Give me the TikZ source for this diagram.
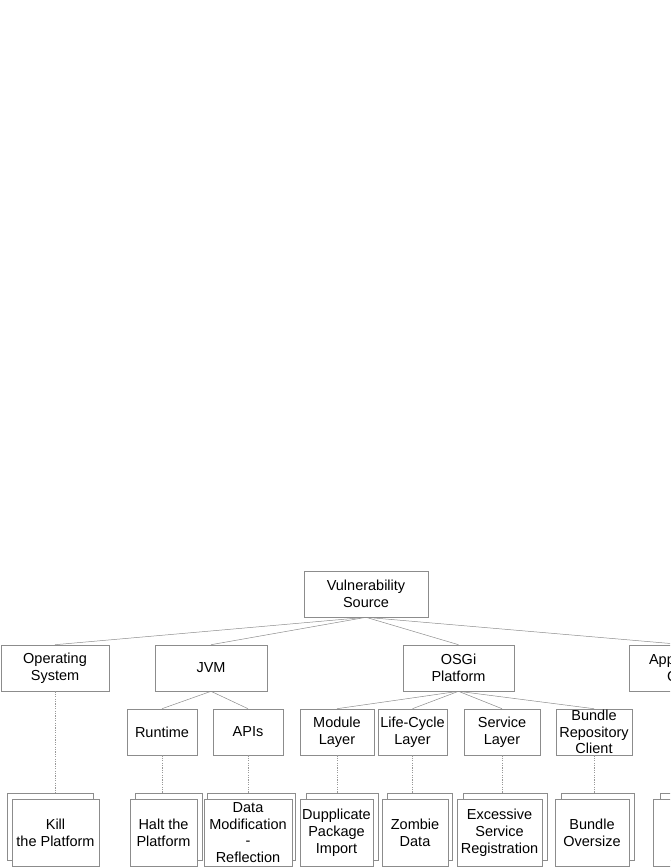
\documentclass[tikz,border=0pt]{standalone}
\usepackage{fontspec}
\setmainfont{Liberation Sans}
\begin{document}
\begin{tikzpicture}[x=1pt,y=1pt,
  box/.style={draw=black!45, fill=white, line width=0.6pt, inner sep=0pt, align=center,
    font=\fontsize{14.5}{16.8}\selectfont},
  lvl/.style={box, minimum height=46pt},
  leaf/.style={box, minimum height=67pt},
  edge/.style={draw=black!45, line width=0.5pt},
  dot/.style={draw=black!40, line width=0.5pt, dash pattern=on 1.2pt off 1.2pt}]
\useasboundingbox (0,0) rectangle (670,-867);
\clip (0,0) rectangle (670,-867);
% level 0/1
\node[lvl, minimum width=124pt] (vs) at (366,-594) {Vulnerability\\Source};
\node[lvl, minimum width=108pt] (os) at (55,-668) {Operating\\System};
\node[lvl, minimum width=112pt] (jvm) at (211,-668) {JVM};
\node[lvl, minimum width=111pt] (osgi) at (458.5,-668) {OSGi\\Platform};
\node[lvl, minimum width=111pt] (app) at (684.5,-668) {Application\\Code};
% level 2
\node[lvl, minimum width=70pt] (rt) at (162,-732) {Runtime};
\node[lvl, minimum width=70pt] (apis) at (248,-732) {APIs};
\node[lvl, minimum width=74pt] (mod) at (337,-732) {Module\\Layer};
\node[lvl, minimum width=69pt] (lc) at (412.5,-732) {Life-Cycle\\Layer};
\node[lvl, minimum width=76pt] (svc) at (502,-732) {Service\\Layer};
\node[lvl, minimum width=76pt] (brc) at (594,-732) {Bundle\\Repository\\Client};
% edges
\foreach \c in {os,jvm,osgi,app} \draw[edge] (vs.south) -- (\c.north);
\foreach \c in {rt,apis} \draw[edge] (jvm.south) -- (\c.north);
\foreach \c in {mod,lc,svc,brc} \draw[edge] (osgi.south) -- (\c.north);
% back leaves
\node[leaf, minimum width=86pt] (killb) at (50,-826.5) {};
\node[leaf, minimum width=67pt] (haltb) at (168.5,-826.5) {};
\node[leaf, minimum width=88pt] (datab) at (251,-826.5) {};
\node[leaf, minimum width=72pt] (dupb) at (342,-826.5) {};
\node[leaf, minimum width=65pt] (zomb) at (419.5,-826.5) {};
\node[leaf, minimum width=84pt] (excb) at (505,-826.5) {};
\node[leaf, minimum width=73pt] (bunb) at (597.5,-826.5) {};
\node[leaf, minimum width=80pt] (lastb) at (700,-826.5) {};
% dotted links
\draw[dot] (os.south) -- (os.south |- killb.north);
\draw[dot] (rt.south) -- (rt.south |- haltb.north);
\draw[dot] (apis.south) -- (apis.south |- datab.north);
\draw[dot] (mod.south) -- (mod.south |- dupb.north);
\draw[dot] (lc.south) -- (lc.south |- zomb.north);
\draw[dot] (svc.south) -- (svc.south |- excb.north);
\draw[dot] (brc.south) -- (brc.south |- bunb.north);
% front leaves
\node[leaf, minimum width=87pt] (kill) at (55.5,-832.5) {Kill\\the Platform};
\node[leaf, minimum width=67pt] (halt) at (163.5,-832.5) {Halt the\\Platform};
\node[leaf, minimum width=88pt] (data) at (248,-832.5) {Data\\Modification\\-\\Reflection};
\node[leaf, minimum width=73pt] (dup) at (336.5,-832.5) {Dupplicate\\Package\\Import};
\node[leaf, minimum width=66pt] (zom) at (415,-832.5) {Zombie\\Data};
\node[leaf, minimum width=85pt] (exc) at (499.5,-832.5) {Excessive\\Service\\Registration};
\node[leaf, minimum width=74pt] (bun) at (592,-832.5) {Bundle\\Oversize};
\node[leaf, minimum width=80pt] (last) at (693,-832.5) {Infinite\\Loop};
\end{tikzpicture}
\end{document}
